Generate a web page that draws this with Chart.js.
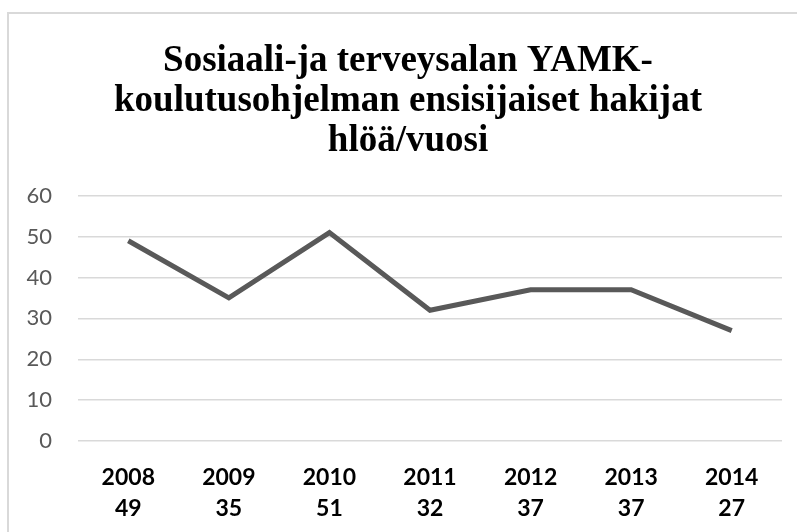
<!DOCTYPE html>
<html lang="fi">
<head>
    <meta charset="UTF-8">
    <title>YAMK hakijat</title>
    <script src="https://cdn.jsdelivr.net/npm/chart.js"></script>
    <style>
        html, body { margin: 0; padding: 0; background: #fff; overflow: hidden; }
        .frame {
            position: absolute;
            left: 7px;
            top: 12px;
            width: 820px;
            height: 560px;
            border-left: 2px solid #d9d9d9;
            border-top: 2px solid #d9d9d9;
        }
        .chart-container {
            position: absolute;
            left: 0;
            top: 0;
            width: 816px;
            height: 532px;
        }
    </style>
</head>
<body>
    <div class="frame"></div>
    <div class="chart-container">
        <canvas id="applicantsChart" width="816" height="532"></canvas>
    </div>

    <script>
        const years = ['2008', '2009', '2010', '2011', '2012', '2013', '2014'];
        const applicants = [49, 35, 51, 32, 37, 37, 27];
        const yTicks = [0, 10, 20, 30, 40, 50, 60];

        // x-akselin nimiöt: vuosi ja arvo kahdella rivillä
        const xLabels = years.map((y, i) => [y, String(applicants[i])]);

        const ctx = document.getElementById('applicantsChart').getContext('2d');
        new Chart(ctx, {
            type: 'line',
            data: {
                labels: xLabels,
                datasets: [{
                    label: 'Ensisijaiset hakijat',
                    data: applicants,
                    borderColor: '#595959',
                    borderWidth: 5,
                    pointRadius: 0,
                    tension: 0,
                    fill: false
                }]
            },
            options: {
                responsive: false,
                animation: false,
                layout: { padding: 0 },
                plugins: {
                    legend: { display: false },
                    tooltip: { enabled: false },
                    title: {
                        display: true,
                        text: ['Sosiaali-ja terveysalan YAMK-', 'koulutusohjelman ensisijaiset hakijat', 'hlöä/vuosi'],
                        color: '#000',
                        font: { family: '"Liberation Serif", "Times New Roman", serif', size: 37, weight: 'bold', lineHeight: 1.07 },
                        padding: { top: 42, bottom: 35 }
                    }
                },
                scales: {
                    x: {
                        offset: true,
                        grid: { display: false, drawTicks: false },
                        border: { display: false },
                        ticks: {
                            color: '#000',
                            padding: 21,
                            font: { family: 'Lato, "Open Sans", sans-serif', size: 23, weight: 'bold', lineHeight: 1.35 }
                        },
                        afterFit: (scale) => { scale.height = 91; }
                    },
                    y: {
                        min: 0,
                        max: 60,
                        afterBuildTicks: (scale) => { scale.ticks = yTicks.map(v => ({ value: v })); },
                        grid: { color: '#d9d9d9', lineWidth: 1.5, drawTicks: false },
                        border: { display: false },
                        ticks: {
                            color: '#595959',
                            padding: 26,
                            font: { family: 'Lato, "Open Sans", sans-serif', size: 22 }
                        },
                        afterFit: (scale) => { scale.width = 78; }
                    },
                    // tyhjä oikea akseli, jotta otsikko keskittyy kuten alkuperäisessä
                    yRight: {
                        position: 'right',
                        min: 0,
                        max: 60,
                        grid: { display: false, drawTicks: false },
                        border: { display: false },
                        ticks: { display: false },
                        afterFit: (scale) => { scale.width = 34; }
                    }
                }
            }
        });
    </script>
</body>
</html>
